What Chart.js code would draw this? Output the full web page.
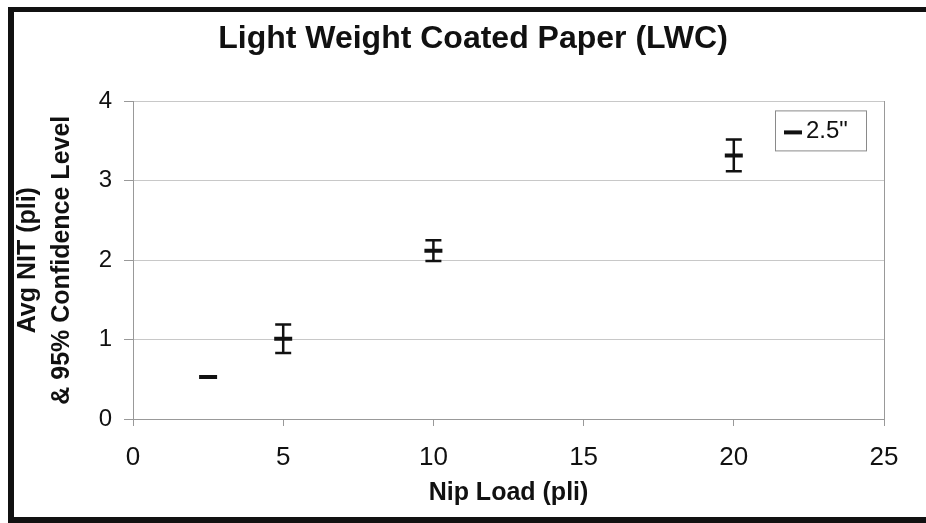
<!DOCTYPE html>
<html>
<head>
<meta charset="utf-8">
<script src="https://cdn.jsdelivr.net/npm/chart.js@4.4.1/dist/chart.umd.min.js"></script>
<style>
  html, body { margin: 0; padding: 0; background: #fff; }
  #wrap { position: relative; width: 926px; height: 523px; overflow: hidden; }
  /* marco negro del recorte escaneado */
  #marco { position: absolute; left: 8px; top: 7px; right: -20px; bottom: 0;
           border-left: 6px solid #111; border-top: 5px solid #111; border-bottom: 6px solid #111;
           pointer-events: none; }
</style>
</head>
<body>
<div id="wrap">
  <canvas id="grafica" width="926" height="523"></canvas>
  <div id="marco"></div>
</div>
<script>
// --- Datos ---
const nipLoad = [2.5, 5, 10, 20];          // pli
const avgNit  = [0.53, 1.01, 2.12, 3.32];  // pli
const conf95  = [0, 0.18, 0.13, 0.20];     // +/- 95%
const xTicks  = [0, 5, 10, 15, 20, 25];
const yTicks  = [0, 1, 2, 3, 4];
const serie   = '2.5"';

Chart.defaults.font.family = '"Liberation Sans", Arial, sans-serif';
Chart.defaults.color = '#111';

// Barras de error (intervalo de confianza)
const barrasError = {
  id: 'barrasError',
  afterDatasetsDraw(chart) {
    const { ctx, scales: { x, y } } = chart;
    ctx.save();
    ctx.strokeStyle = '#111';
    ctx.lineWidth = 2.5;
    nipLoad.forEach((n, i) => {
      if (!conf95[i]) return;
      const px  = x.getPixelForValue(n);
      const top = y.getPixelForValue(avgNit[i] + conf95[i]);
      const bot = y.getPixelForValue(avgNit[i] - conf95[i]);
      ctx.beginPath();
      ctx.moveTo(px, top);     ctx.lineTo(px, bot);
      ctx.moveTo(px - 8, top); ctx.lineTo(px + 8, top);
      ctx.moveTo(px - 8, bot); ctx.lineTo(px + 8, bot);
      ctx.stroke();
    });
    ctx.restore();
  }
};

// Leyenda dentro del área del gráfico
const leyendaCaja = {
  id: 'leyendaCaja',
  afterDraw(chart) {
    const { ctx, chartArea } = chart;
    const x = chartArea.right - 109, y = chartArea.top + 9, w = 91, h = 40;
    ctx.save();
    ctx.fillStyle = '#fff';
    ctx.fillRect(x, y, w, h);
    ctx.strokeStyle = '#8a8a8a';
    ctx.lineWidth = 1;
    ctx.strokeRect(x + 0.5, y + 0.5, w, h);
    ctx.strokeStyle = '#111';
    ctx.lineWidth = 4;
    ctx.beginPath();
    ctx.moveTo(x + 9, y + 22);
    ctx.lineTo(x + 27, y + 22);
    ctx.stroke();
    ctx.fillStyle = '#111';
    ctx.font = '24px "Liberation Sans", Arial, sans-serif';
    ctx.textBaseline = 'middle';
    ctx.fillText(chart.data.datasets[0].label, x + 31, y + 21);
    ctx.restore();
  }
};

const ctx = document.getElementById('grafica').getContext('2d');
new Chart(ctx, {
  type: 'scatter',
  data: {
    datasets: [{
      label: serie,
      data: nipLoad.map((n, i) => ({ x: n, y: avgNit[i] })),
      pointStyle: 'line',
      radius: 9,
      hoverRadius: 9,
      borderWidth: 4,
      hoverBorderWidth: 4,
      borderColor: '#111',
      backgroundColor: '#111'
    }]
  },
  options: {
    responsive: false,
    animation: false,
    layout: { padding: { left: 20, right: 0, top: 0, bottom: 0 } },
    plugins: {
      legend: { display: false },
      tooltip: { enabled: false },
      title: {
        display: true,
        text: 'Light Weight Coated Paper (LWC)',
        color: '#111',
        font: { size: 32, weight: 'bold' },
        padding: { top: 20, bottom: 43 }
      }
    },
    scales: {
      x: {
        type: 'linear',
        position: 'bottom',
        min: xTicks[0],
        max: xTicks[xTicks.length - 1],
        afterBuildTicks: s => { s.ticks = xTicks.map(v => ({ value: v })); },
        afterFit: s => { s.height = 104; },
        ticks: { font: { size: 26 }, padding: 16, color: '#111' },
        grid: { drawOnChartArea: false, drawTicks: true, tickLength: 7, tickColor: '#999' },
        border: { color: '#999', width: 1 },
        title: {
          display: true,
          text: 'Nip Load (pli)',
          color: '#111',
          font: { size: 25, weight: 'bold' },
          padding: { top: 0, bottom: 15 }
        }
      },
      y: {
        type: 'linear',
        position: 'left',
        min: yTicks[0],
        max: yTicks[yTicks.length - 1],
        afterBuildTicks: s => { s.ticks = yTicks.map(v => ({ value: v })); },
        afterFit: s => { s.width = 113; },
        ticks: { font: { size: 24 }, padding: 12, color: '#111' },
        grid: { color: '#c8c8c8', tickLength: 9, tickColor: '#999' },
        border: { color: '#999', width: 1 },
        title: {
          display: true,
          text: ['Avg NIT (pli)', '& 95% Confidence Level'],
          color: '#111',
          font: { size: 25, weight: 'bold', lineHeight: '34px' },
          padding: { top: -9, bottom: 0 }
        }
      },
      yDer: {
        type: 'linear',
        position: 'right',
        min: 0,
        max: 4,
        afterFit: s => { s.width = 42; },
        ticks: { display: false },
        grid: { display: false },
        border: { display: true, color: '#999', width: 1 }
      }
    }
  },
  plugins: [barrasError, leyendaCaja]
});
</script>
</body>
</html>
